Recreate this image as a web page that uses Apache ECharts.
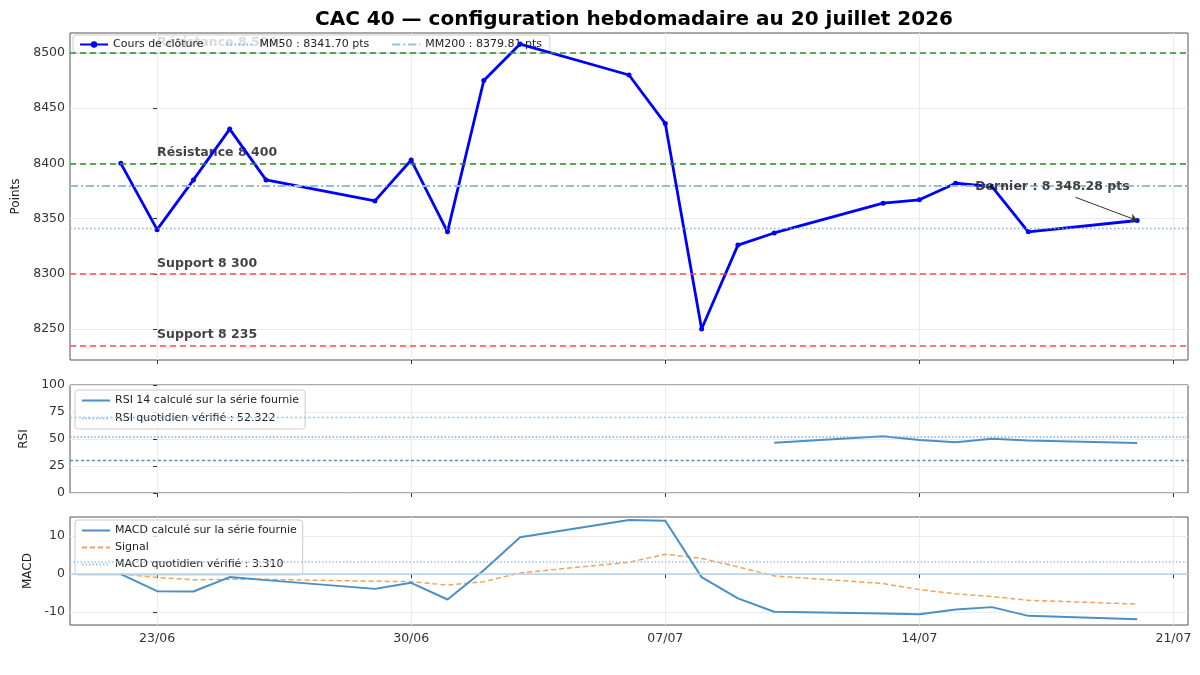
<!DOCTYPE html>
<html>
<head>
<meta charset="utf-8">
<script src="https://cdn.jsdelivr.net/npm/echarts@6.0.0/dist/echarts.min.js"></script>
<style>html,body{margin:0;padding:0;background:#fff}#c{width:1200px;height:675px}</style>
</head>
<body>
<div id="c"></div>
<script>
// ---- data ----
const dates = ['2026-06-22','2026-06-23','2026-06-24','2026-06-25','2026-06-26','2026-06-29','2026-06-30','2026-07-01','2026-07-02','2026-07-03','2026-07-06','2026-07-07','2026-07-08','2026-07-09','2026-07-10','2026-07-13','2026-07-14','2026-07-15','2026-07-16','2026-07-17','2026-07-20'];
const closeValues = [8400, 8340, 8385, 8431, 8385, 8366, 8403, 8338, 8475, 8508, 8480, 8436, 8250, 8326, 8337, 8364, 8367, 8382, 8379, 8338, 8348.28];
const rsiDates = ['2026-07-10','2026-07-13','2026-07-14','2026-07-15','2026-07-16','2026-07-17','2026-07-20'];
const rsiValues = [46.5, 52.5, 49.0, 47.0, 50.3, 48.6, 46.2];
const macdValues = [0, -4.5, -4.6, -0.8, -1.6, -3.9, -2.3, -6.7, 1.0, 9.7, 14.2, 14.0, -0.8, -6.4, -9.9, -10.4, -10.6, -9.3, -8.7, -11.0, -11.9];
const signalValues = [0, -0.9, -1.5, -1.4, -1.4, -1.9, -2.0, -2.9, -2.0, 0.3, 3.1, 5.2, 4.1, 1.9, -0.5, -2.5, -4.1, -5.2, -5.9, -6.9, -7.9];
const levels = [
  {value: 8500, text: 'Résistance 8 500', kind: 'res'},
  {value: 8400, text: 'Résistance 8 400', kind: 'res'},
  {value: 8300, text: 'Support 8 300', kind: 'sup'},
  {value: 8235, text: 'Support 8 235', kind: 'sup'}
];
const mm50 = 8341.70;
const mm200 = 8379.81;
const rsiDaily = 52.322;
const rsiBands = [70, 30];
const macdDaily = 3.310;
const tickDates = ['2026-06-23','2026-06-30','2026-07-07','2026-07-14','2026-07-21'];
const tickLabels = ['23/06','30/06','07/07','14/07','21/07'];
const yTicksMain = [8250, 8300, 8350, 8400, 8450, 8500];
const yTicksRsi = [0, 25, 50, 75, 100];
const yTicksMacd = [-10, 0, 10];
const lastLabel = 'Dernier : 8 348.28 pts';
const titleText = 'CAC 40 — configuration hebdomadaire au 20 juillet 2026';

// ---- helpers ----
const ORIGIN = Date.UTC(2026, 5, 23);
function dayOf(s) { const p = s.split('-').map(Number); return (Date.UTC(p[0], p[1]-1, p[2]) - ORIGIN) / 86400000; }
const xs = dates.map(dayOf);
const tickX = tickDates.map(dayOf);
const xMin = xs[0] - 1.4, xMax = xs[xs.length-1] + 1.4;
const FONT = 'DejaVu Sans';

const closeData = xs.map((x, i) => [x, closeValues[i]]);
const rsiData = rsiDates.map((d, i) => [dayOf(d), rsiValues[i]]);
const macdData = xs.map((x, i) => [x, macdValues[i]]);
const signalData = xs.map((x, i) => [x, signalValues[i]]);
const lastPt = closeData[closeData.length-1];

const gridColor = '#ebebeb';
const C_RSI = '#4a8fc7';
const C_LIGHT = '#9dc3e6';
const TICK_FS = 12.5;
const LEG_FS = 11;

function xAxis(gi, showLabel) {
  return {
    type: 'value', gridIndex: gi, min: xMin, max: xMax,
    axisLine: {show: false},
    axisTick: {show: true, customValues: tickX, length: 4, lineStyle: {color: '#333'}},
    axisLabel: {show: showLabel, customValues: tickX, color: '#333', fontFamily: FONT, fontSize: TICK_FS, margin: 7,
      formatter: v => { const i = tickX.findIndex(t => Math.abs(t - v) < 1e-6); return i >= 0 ? tickLabels[i] : ''; }},
    splitLine: {show: true, lineStyle: {color: gridColor, width: 1}}
  };
}
function yAxis(gi, min, max, ticks, name, gap) {
  return {
    type: 'value', gridIndex: gi, min: min, max: max,
    name: name, nameLocation: 'middle', nameGap: gap, nameRotate: 90,
    nameTextStyle: {color: '#222', fontFamily: FONT, fontSize: 12},
    axisLine: {show: false},
    axisTick: {show: true, customValues: ticks, length: 4, lineStyle: {color: '#333'}},
    axisLabel: {customValues: ticks, color: '#333', fontFamily: FONT, fontSize: TICK_FS, margin: 5, formatter: v => String(v)},
    splitLine: {show: true, lineStyle: {color: gridColor, width: 1}}
  };
}
const hline = (v, color, type, width) => ({yAxis: v, lineStyle: {color: color, type: type, width: width}});
const mlBase = {symbol: 'none', silent: true, label: {show: false}, animation: false, emphasis: {disabled: true}};
const noSym = name => ({name: name, itemStyle: {opacity: 0}});
const legendBox = {
  itemWidth: 28, itemHeight: 8, padding: [4, 8, 3, 6],
  backgroundColor: 'rgba(255,255,255,0.8)', borderColor: '#cccccc', borderWidth: 1, borderRadius: 3,
  textStyle: {fontFamily: FONT, fontSize: LEG_FS, color: '#222'}
};

const option = {
  animation: false,
  backgroundColor: '#fff',
  textStyle: {fontFamily: FONT},
  title: {text: titleText, left: 629, textAlign: 'center', top: 5,
    textStyle: {fontFamily: FONT, fontSize: 20, fontWeight: 'bold', color: '#000'}},
  grid: [
    {left: 70, right: 12, top: 33, height: 327, show: true, borderColor: '#555', borderWidth: 1},
    {left: 70, right: 12, top: 385, height: 108, show: true, borderColor: '#555', borderWidth: 1},
    {left: 70, right: 12, top: 517, height: 108, show: true, borderColor: '#555', borderWidth: 1}
  ],
  xAxis: [xAxis(0, false), xAxis(1, false), xAxis(2, true)],
  yAxis: [
    yAxis(0, 8222, 8518, yTicksMain, 'Points', 45),
    yAxis(1, 0, 100, yTicksRsi, 'RSI', 36),
    yAxis(2, -13.4, 15, yTicksMacd, 'MACD', 36)
  ],
  legend: [
    Object.assign({}, legendBox, {data: ['Cours de clôture', noSym('MM50 : 8341.70 pts'), noSym('MM200 : 8379.81 pts')],
      left: 73, top: 35, orient: 'horizontal', itemGap: 22}),
    Object.assign({}, legendBox, {data: [noSym('RSI 14 calculé sur la série fournie'), noSym('RSI quotidien vérifié : 52.322')],
      left: 75, top: 390, orient: 'vertical', itemGap: 7, padding: [5, 6, 5, 6]}),
    Object.assign({}, legendBox, {data: [noSym('MACD calculé sur la série fournie'), noSym('Signal'), noSym('MACD quotidien vérifié : 3.310')],
      left: 75, top: 520, orient: 'vertical', itemGap: 6, padding: [5, 6, 5, 6]})
  ],
  series: [
    {type: 'line', name: 'levels', xAxisIndex: 0, yAxisIndex: 0, data: [], silent: true,
      markLine: Object.assign({}, mlBase, {data: levels.map(l => hline(l.value, l.kind === 'res' ? '#2e8b2e' : '#ff4a4a', [6, 4], 1.6))})},
    {type: 'line', name: 'MM50 : 8341.70 pts', xAxisIndex: 0, yAxisIndex: 0, data: [], symbol: 'none',
      lineStyle: {color: '#7fb2e0', type: [1.5, 2.5], width: 1.4}, itemStyle: {color: '#7fb2e0'},
      markLine: Object.assign({}, mlBase, {data: [hline(mm50, '#7fb2e0', [1.5, 2.5], 1.3)]})},
    {type: 'line', name: 'MM200 : 8379.81 pts', xAxisIndex: 0, yAxisIndex: 0, data: [], symbol: 'none',
      lineStyle: {color: '#94bde3', type: [8, 3, 2, 3], width: 2}, itemStyle: {color: '#94bde3'},
      markLine: Object.assign({}, mlBase, {data: [hline(mm200, '#94bde3', [8, 3, 2, 3], 2)]})},
    {type: 'scatter', name: 'levelLabels', xAxisIndex: 0, yAxisIndex: 0, silent: true, symbolSize: 0, z: 3,
      data: levels.map(l => ({value: [tickX[0], l.value], name: l.text})),
      label: {show: true, position: [0, -17], formatter: p => p.name, fontFamily: FONT, fontSize: 12.5, fontWeight: 'bold', color: '#111'}},
    {type: 'line', name: 'Cours de clôture', xAxisIndex: 0, yAxisIndex: 0, data: closeData,
      symbol: 'circle', symbolSize: 5, showSymbol: true,
      lineStyle: {color: '#0000ff', width: 2.8}, itemStyle: {color: '#0000ff'}, z: 4,
      markLine: Object.assign({}, mlBase, {symbol: ['none', 'arrow'], symbolSize: 7,
        data: [[{coord: [lastPt[0] - 1.7, lastPt[1] + 21], lineStyle: {color: '#333', width: 1, type: 'solid'}}, {coord: lastPt}]]})},
    {type: 'scatter', name: 'lastLabel', xAxisIndex: 0, yAxisIndex: 0, silent: true, symbolSize: 0, z: 5,
      data: [{value: lastPt, name: lastLabel}],
      label: {show: true, position: [-162, -40], formatter: p => p.name, fontFamily: FONT, fontSize: 12.5, fontWeight: 'bold', color: '#111'}},
    {type: 'line', name: 'RSI 14 calculé sur la série fournie', xAxisIndex: 1, yAxisIndex: 1, data: rsiData,
      symbol: 'none', lineStyle: {color: C_RSI, width: 2}, itemStyle: {color: C_RSI},
      markLine: Object.assign({}, mlBase, {data: [hline(rsiBands[0], C_LIGHT, [2, 2.5], 1.3), hline(rsiBands[1], C_RSI, [3, 2.5], 1.3)]})},
    {type: 'line', name: 'RSI quotidien vérifié : 52.322', xAxisIndex: 1, yAxisIndex: 1, data: [], symbol: 'none',
      lineStyle: {color: C_LIGHT, type: [1.5, 2], width: 1.5}, itemStyle: {color: C_LIGHT},
      markLine: Object.assign({}, mlBase, {data: [hline(rsiDaily, '#7aaedb', [1.5, 2], 1.5)]})},
    {type: 'line', name: 'MACD calculé sur la série fournie', xAxisIndex: 2, yAxisIndex: 2, data: macdData,
      symbol: 'none', lineStyle: {color: C_RSI, width: 2}, itemStyle: {color: C_RSI}, z: 4,
      markLine: Object.assign({}, mlBase, {data: [hline(0, '#b3d1ea', 'solid', 1.6)]})},
    {type: 'line', name: 'Signal', xAxisIndex: 2, yAxisIndex: 2, data: signalData,
      symbol: 'none', lineStyle: {color: '#f5a05a', width: 1.5, type: [5, 3]}, itemStyle: {color: '#f5a05a'}, z: 3},
    {type: 'line', name: 'MACD quotidien vérifié : 3.310', xAxisIndex: 2, yAxisIndex: 2, data: [], symbol: 'none',
      lineStyle: {color: C_LIGHT, type: [1.5, 2], width: 1.5}, itemStyle: {color: C_LIGHT},
      markLine: Object.assign({}, mlBase, {data: [hline(macdDaily, C_LIGHT, [1.5, 2], 1.5)]})}
  ]
};
const chart = echarts.init(document.getElementById('c'), null, {renderer: 'canvas'});
chart.setOption(option);
</script>
</body>
</html>
